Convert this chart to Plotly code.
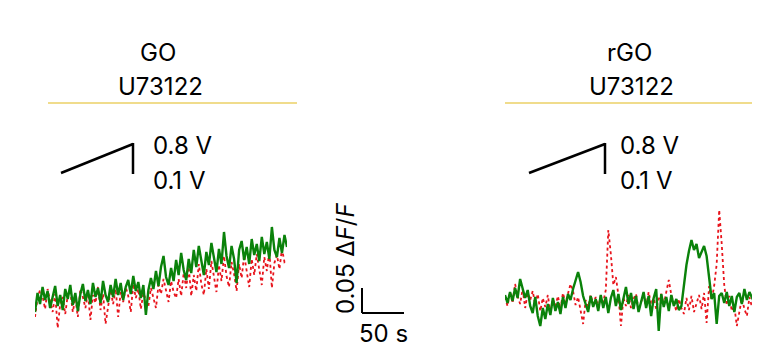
import plotly.graph_objects as go

# sampling times (s)
time_s = list(range(0, 301, 3))

# ΔF/F traces in thousandths (milli ΔF/F)
go_green_milli = [-24, 14, -8, 26, 0, 18, -16, 8, 28, -12, 10, -20, 22, 2, 30, -10, 14, -22, 12, 32,
                  -2, 20, -8, 34, 6, 24, -6, 38, 10, -4, 30, 6, 42, 10, 34, 0, 26, 40, 12, 48,
                  18, 36, 4, 30, -30, 20, 44, 22, 58, 28, 66, 88, 46, 30, 64, 38, 80, 50, 94, 60,
                  40, 82, 54, 100, 66, 108, 76, 50, 96, 70, 114, 80, 56, 102, 72, 136, 88, 64, 108, 82,
                  34, 100, 118, 80, 106, 72, 122, 90, 112, 78, 126, 92, 116, 82, 146, 100, 86, 124, 94, 130,
                  106]
go_red_milli = [-34, 4, 20, 8, -18, 22, -2, -24, 12, -56, -8, 6, -28, 10, 18, -24, 4, -34, 22, 6,
                -16, 14, -40, 10, -6, 26, -20, 12, -48, -12, 20, -8, 22, -34, 16, -4, 26, 8, -24, 32,
                4, 22, -18, 14, 0, -12, 24, 2, -16, 30, 12, 42, 20, -4, 38, 16, 4, 42, 8, 54,
                24, 66, 8, 50, 18, 72, 32, 10, 62, 22, 78, 42, 16, 70, 38, 88, 48, 26, 76, 52,
                18, 72, 44, 90, 58, 26, 82, 50, 92, 62, 30, 86, 58, 98, 24, 74, 90, 62, 102, 76,
                80]
rgo_green_milli = [10, -6, 16, -2, 24, 4, 42, 22, 4, 20, -12, -26, 6, -32, -52, -16, -38, -8, -30, 4,
                   -22, -4, -28, 6, -16, 12, 0, 22, 42, 56, 36, 8, -8, -24, 8, -14, 2, -22, 10, -16,
                   6, -26, 4, 20, -12, 12, -20, 6, 26, -8, 14, -18, 8, -24, -4, 16, -16, 8, -32, 4,
                   22, -62, 12, -14, 6, -22, 10, -12, 2, -20, -12, 30, 70, 98, 120, 100, 112, 84, 98, 108,
                   88, 40, 2, 14, -48, 8, 14, -6, 16, -12, 8, -24, 6, 14, -8, 22, 0, 16, 6, -6,
                   2]
rgo_red_milli = [6, -12, 16, -6, 32, 8, -8, 22, -16, 14, 0, 18, -10, 12, -22, 4, -14, 10, -26, 2,
                 -12, 8, -18, 14, -6, 12, 32, 18, -10, 6, -22, -48, 0, -14, 10, -8, 6, -16, 8, -4,
                 20, 140, 92, 30, 46, 10, -52, 4, -12, 10, -16, 2, 12, -20, -4, 8, -14, 16, -8, 4,
                 -18, 2, 12, -10, 16, 40, 10, -6, -22, 2, -16, -28, 4, -20, 8, -24, -6, 10, -18, 14,
                 -46, 28, 0, 28, 72, 180, 112, 30, -10, 8, -22, -12, -52, -24, 4, -18, -32, 6, -14, -6,
                 8]

panel_titles = ["GO", "rGO"]
drug_label = "U73122"
ramp_labels = ["0.8 V", "0.1 V"]
scale_y_label = "0.05 Δ<i>F</i>/<i>F</i>"
scale_x_label = "50 s"

W, H = 760, 359
OFF = 8  # page margin of the html body
FONT = "Inter"
GREEN = "#0a820a"
RED = "#e8141c"
YELLOW = "#f0dc8c"


def px(x):
    return (x - OFF) / W


def py(y):
    return 1 - (y - OFF) / H


fig = go.Figure()

for vals, color, dash, width, ax in [
    (go_red_milli, RED, "dot", 1.8, "x"),
    (go_green_milli, GREEN, "solid", 2.4, "x"),
    (rgo_red_milli, RED, "dot", 1.8, "x2"),
    (rgo_green_milli, GREEN, "solid", 2.4, "x2"),
]:
    fig.add_trace(go.Scatter(
        x=time_s, y=[v / 1000 for v in vals], xaxis=ax, yaxis="y",
        mode="lines", line=dict(color=color, dash=dash, width=width),
        showlegend=False, hoverinfo="skip"))

# y: 1 px = 0.002 ΔF/F, baseline at screen y=300
base = 300 - OFF
yr = [(base - H) * 0.002, base * 0.002]
axis_common = dict(visible=False, range=[0, 300], fixedrange=True)
fig.update_layout(
    width=W, height=H, margin=dict(l=0, r=0, t=0, b=0),
    paper_bgcolor="white", plot_bgcolor="rgba(0,0,0,0)",
    xaxis=dict(domain=[px(35), px(287)], **axis_common),
    xaxis2=dict(domain=[px(505), px(757)], **axis_common),
    yaxis=dict(visible=False, range=yr, domain=[0, 1], fixedrange=True),
    font=dict(family=FONT, color="black"),
)

shapes = []
anns = []
panels = [
    dict(title=panel_titles[0], cx=158, line=(48, 297), ramp=(61, 133), lab_x=151),
    dict(title=panel_titles[1], cx=629, line=(505, 753), ramp=(529, 605), lab_x=618),
]
for p in panels:
    anns.append(dict(text=p["title"], x=px(p["cx"]), y=py(52)))
    anns.append(dict(text=drug_label, x=px(p["cx"] + 2), y=py(86)))
    shapes.append(dict(type="line", xref="paper", yref="paper",
                       x0=px(p["line"][0]), x1=px(p["line"][1]), y0=py(103), y1=py(103),
                       line=dict(color=YELLOW, width=2)))
    r0, r1 = p["ramp"]
    shapes.append(dict(type="line", xref="paper", yref="paper",
                       x0=px(r0), y0=py(173), x1=px(r1), y1=py(144),
                       line=dict(color="black", width=2.5)))
    shapes.append(dict(type="line", xref="paper", yref="paper",
                       x0=px(r1), y0=py(143), x1=px(r1), y1=py(174),
                       line=dict(color="black", width=2.5)))
    anns.append(dict(text=ramp_labels[0], x=px(p["lab_x"]), y=py(145), xanchor="left"))
    anns.append(dict(text=ramp_labels[1], x=px(p["lab_x"]), y=py(180), xanchor="left"))

# scale bar: 50 s horizontal, 0.05 ΔF/F vertical
sb_x0 = 362
sb_y = 313
px_per_s = 252 / 300
px_per_unit = 1 / 0.002
shapes.append(dict(type="line", xref="paper", yref="paper",
                   x0=px(sb_x0), y0=py(sb_y), x1=px(sb_x0 + 50 * px_per_s), y1=py(sb_y),
                   line=dict(color="black", width=2)))
shapes.append(dict(type="line", xref="paper", yref="paper",
                   x0=px(sb_x0), y0=py(sb_y), x1=px(sb_x0), y1=py(sb_y - 0.05 * px_per_unit),
                   line=dict(color="black", width=2)))
anns.append(dict(text=scale_y_label, x=px(345), y=py(258), textangle=-90))
anns.append(dict(text=scale_x_label, x=px(383), y=py(333)))

for a in anns:
    a.setdefault("xanchor", "center")
    a.update(xref="paper", yref="paper", yanchor="middle", showarrow=False,
             font=dict(family=FONT, size=24, color="black"))

fig.update_layout(shapes=shapes, annotations=anns)
fig.write_html("out.html")
